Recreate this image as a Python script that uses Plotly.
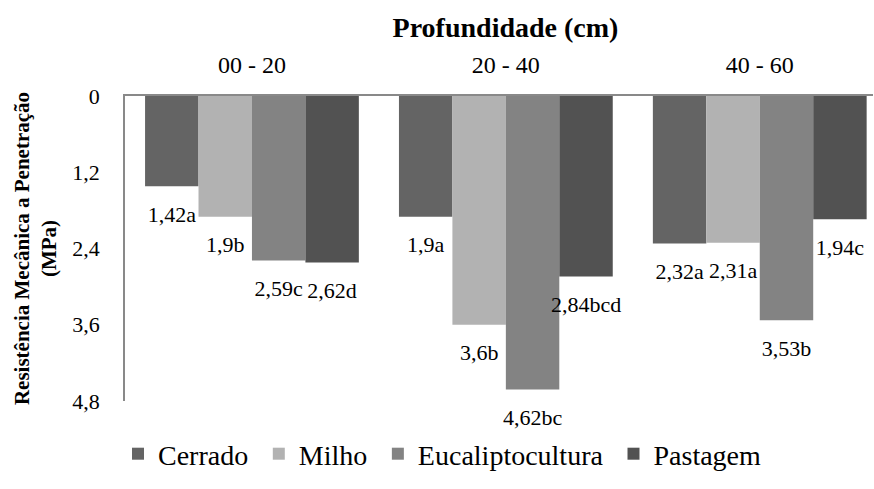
import plotly.graph_objects as go

categories = ["00 - 20", "20 - 40", "40 - 60"]
series_names = ["Cerrado", "Milho", "Eucaliptocultura", "Pastagem"]
cerrado = [1.42, 1.9, 2.32]
milho = [1.9, 3.6, 2.31]
eucalipto = [2.59, 4.62, 3.53]
pastagem = [2.62, 2.84, 1.94]
cerrado_labels = ["1,42a", "1,9a", "2,32a"]
milho_labels = ["1,9b", "3,6b", "2,31a"]
eucalipto_labels = ["2,59c", "4,62bc", "3,53b"]
pastagem_labels = ["2,62d", "2,84bcd", "1,94c"]
y_ticks = [0, 1.2, 2.4, 3.6, 4.8]
y_tick_labels = ["0", "1,2", "2,4", "3,6", "4,8"]

values = [cerrado, milho, eucalipto, pastagem]
labels = [cerrado_labels, milho_labels, eucalipto_labels, pastagem_labels]
colors = ["#646464", "#b2b2b2", "#838383", "#525252"]

FONT = "Liberation Serif"
GAP = 0.158

fig = go.Figure()
for i, name in enumerate(series_names):
    fig.add_trace(go.Bar(
        x=categories, y=values[i], name=name + "\u2009", offsetgroup=str(i),
        marker=dict(color=colors[i], line=dict(width=0)),
        hoverinfo="skip",
    ))
for i, name in enumerate(series_names):
    fig.add_trace(go.Scatter(
        x=categories, y=values[i], offsetgroup=str(i), mode="markers+text",
        text=labels[i], textposition="bottom center",
        textfont=dict(family=FONT, size=22, color="#000000"),
        marker=dict(size=29, opacity=0),
        showlegend=False, hoverinfo="skip", cliponaxis=False,
    ))

fig.update_layout(
    width=874, height=489,
    margin=dict(l=125, r=1, t=96, b=88),
    plot_bgcolor="white", paper_bgcolor="white",
    barmode="group", bargap=GAP, bargroupgap=0,
    scattermode="group", scattergap=GAP,
    separators=",.",
    font=dict(family=FONT, size=20, color="#000000"),
    title=dict(text="<b>Profundidade (cm)</b>", x=0.5087, xref="paper", xanchor="center",
               y=1 - 27 / 489, yref="container", yanchor="middle",
               font=dict(family=FONT, size=28, color="#000000")),
    legend=dict(orientation="h", x=118 / 874, xref="container", xanchor="left",
                y=1 - 454 / 489, yref="container", yanchor="middle",
                bgcolor="rgba(0,0,0,0)",
                font=dict(family=FONT, size=28), itemclick=False,
                traceorder="normal"),
    showlegend=True,
)
fig.update_xaxes(
    side="top", type="category", range=[-0.5, 2.446], automargin=False,
    showline=True, linecolor="#898989", linewidth=1.5,
    showgrid=False, ticks="", ticklabelstandoff=12,
    tickfont=dict(family=FONT, size=24),
)
fig.update_yaxes(
    range=[4.8, 0], tickvals=y_ticks, ticktext=y_tick_labels, automargin=False,
    showline=True, linecolor="#898989", linewidth=1.5,
    showgrid=False, zeroline=False, ticks="", ticklabelstandoff=19,
    tickfont=dict(family=FONT, size=22),
    title=dict(text="<b>Resistência Mecânica a Penetração<br>(MPa)</b>",
               font=dict(family=FONT, size=21), standoff=10),
)
fig.write_html("out.html", config={"displayModeBar": False},
               post_script="document.body.style.margin='0';document.body.style.overflow='hidden';")
